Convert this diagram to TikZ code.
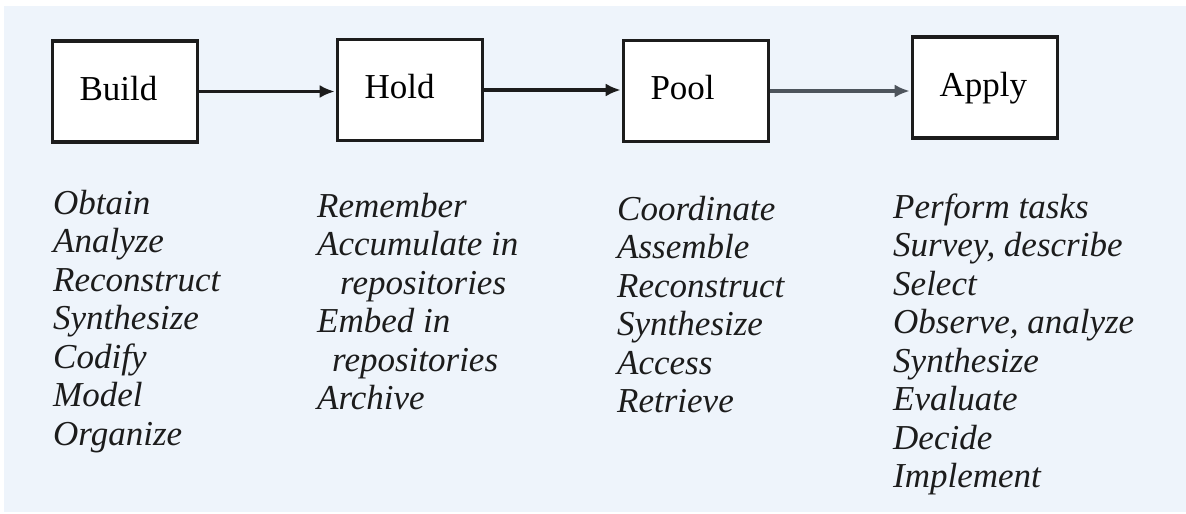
\documentclass[tikz,border=0pt]{standalone}
\usepackage{fontspec}
\setmainfont{Liberation Serif}
\usetikzlibrary{arrows.meta}

\definecolor{panel}{HTML}{EEF4FB}
\definecolor{ink}{HTML}{1C1C1C}
\definecolor{greyline}{HTML}{4D545C}

\newcommand{\firstline}{\rule{0pt}{26pt}}

\tikzset{
  stagebox/.style={draw=ink, line width=3.6pt, fill=white, rectangle,
    minimum width=145pt, minimum height=101pt, inner xsep=27pt,
    text width=91pt, align=left, text height=24pt, text depth=7pt,
    font=\fontsize{35}{38.5}\selectfont},
  flow/.style={draw=ink, line width=3.6pt, -{Latex[length=15pt,width=13pt]},
    shorten >=1pt},
  actions/.style={anchor=north west, inner sep=0pt, align=left,
    font=\fontsize{35}{38.5}\selectfont\itshape, text=ink}
}

\begin{document}
\begin{tikzpicture}[x=1pt, y=-1pt]
  \useasboundingbox (0,0) rectangle (1186,514);
  \fill[white] (0,0) rectangle (1186,514);
  \fill[panel] (4,6) rectangle (1186,512);

  % the four stages
  \node[stagebox] (build) at (125,91.5) {Build};
  \node[stagebox] (hold)  at (410,90)   {Hold};
  \node[stagebox] (pool)  at (696,91)   {Pool};
  \node[stagebox] (apply) at (985,87.5) {Apply};

  % flow between stages
  \draw[flow] (build.east) -- (build.east -| hold.west);
  \draw[flow] (hold.east) -- (hold.east -| pool.west);
  \draw[flow, draw=greyline] (pool.east) -- (pool.east -| apply.west);

  % activities of each stage
  \node[actions] (build-acts) at (53,188) {\firstline Obtain\\Analyze\\Reconstruct\\Synthesize\\Codify\\Model\\Organize};
  \node[actions] (hold-acts) at (317,191) {\firstline Remember\\Accumulate in\\\hspace*{23pt}repositories\\Embed in\\\hspace*{15pt}repositories\\Archive};
  \node[actions] (pool-acts) at (617,194) {\firstline Coordinate\\Assemble\\Reconstruct\\Synthesize\\Access\\Retrieve};
  \node[actions] (apply-acts) at (893,192) {\firstline Perform tasks\\Survey, describe\\Select\\Observe, analyze\\Synthesize\\Evaluate\\Decide\\Implement};
\end{tikzpicture}
\end{document}
